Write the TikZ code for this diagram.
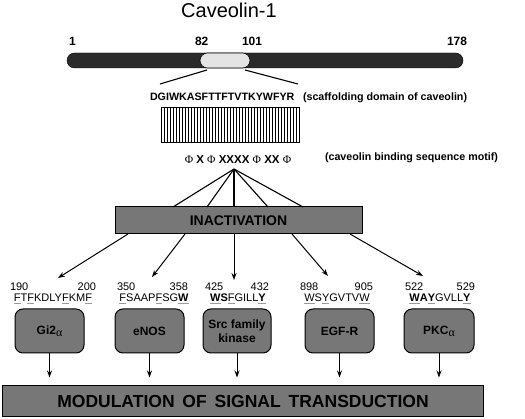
\documentclass[tikz,border=0pt]{standalone}
\usepackage{fontspec}
\setmainfont{Liberation Sans}
\newfontfamily\serifgr{Liberation Serif}
\usetikzlibrary{arrows.meta,calc}
\definecolor{bardark}{HTML}{2B2B2B}
\definecolor{seglight}{HTML}{E4E4E4}
\definecolor{boxgray}{HTML}{777777}
\definecolor{ulgray}{HTML}{9A9A9A}
\newcommand{\ulg}[1]{{\setbox0\hbox{#1}\rlap{\color{ulgray}\rule[-2.4pt]{\wd0}{1.1pt}}\box0}}
\newcommand{\ulb}[1]{\ulg{\textbf{#1}}}
\newcommand{\gph}{{\serifgr\mdseries Φ}}
\newcommand{\galpha}{\raisebox{-0.35ex}{\serifgr\mdseries α}}
\tikzset{
  plain/.style={inner sep=0pt, outer sep=0pt},
  numb/.style={plain, font=\bfseries\fontsize{12}{14}\selectfont, anchor=base west},
  seqbold/.style={plain, font=\bfseries\fontsize{10.7}{12}\selectfont, anchor=base west},
  posnum/.style={plain, font=\fontsize{11}{12}\selectfont},
  seqsmall/.style={plain, font=\fontsize{11}{12}\selectfont, anchor=base},
  gbox/.style={draw=black, line width=1pt, fill=boxgray, inner sep=0pt},
  rbox/.style={gbox, rounded corners=8pt, minimum height=44pt, align=center,
    font=\bfseries\fontsize{12}{14}\selectfont},
  arr/.style={-{Stealth[length=7pt,width=5pt]}, line width=1pt},
  ln/.style={line width=1.1pt}
}
\begin{document}
\begin{tikzpicture}[x=1pt,y=-1pt]
\useasboundingbox (0,0) rectangle (525,419);
% title
\node[plain, font=\fontsize{20}{22}\selectfont, anchor=base] (title) at (229,18) {Caveolin-1};
% bar
\node[plain, draw=black, fill=bardark, rounded corners=7.5pt, minimum width=396pt, minimum height=15pt] (bar) at (265,60.5) {};
\node[plain, draw=black, line width=0.6pt, fill=seglight, rounded corners=7.5pt, minimum width=50pt, minimum height=15pt] (seg) at (225,60.5) {};
\node[numb] (n1) at (69,46) {1};
\node[numb] (n82) at (195,46) {82};
\node[numb] (n101) at (242,46) {101};
\node[numb] (n178) at (447,46) {178};
% zoom lines
\coordinate (zl1) at (207,70);
\coordinate (zl2) at (160,84);
\coordinate (zr1) at (245,70);
\coordinate (zr2) at (298,84);
\draw[ln] (zl1) -- (zl2);
\draw[ln] (zr1) -- (zr2);
% sequence
\node[seqbold] (seq) at (150,101) {DGIWKASFTTFTVTKYWFYR};
\node[seqbold] (seqlab) at (303,101) {(scaffolding domain of caveolin)};
% hatched box
\node[plain, draw=black, line width=1pt, minimum width=138pt, minimum height=35pt] (hatch) at (230.5,125.5) {};
\foreach \x in {164,167,...,298} \draw[line width=0.6pt] (\x,108) -- (\x,143);
% motif
\node[plain, font=\bfseries\fontsize{11.5}{13}\selectfont, anchor=base] (motif) at (238,163.5)
  {\gph\ X \gph\ XXXX \gph\ XX \gph};
\node[seqbold] (motiflab) at (325,161) {(caveolin binding sequence motif)};
% inactivation
\node[gbox, minimum width=247pt, minimum height=27pt, font=\bfseries\fontsize{14}{16}\selectfont] (inact) at (238.5,220.5) {INACTIVATION};
\coordinate (apex) at (234,169);
\coordinate (f1) at (173,207);
\coordinate (f2) at (207,207);
\coordinate (f3) at (234,207);
\coordinate (f4) at (268,207);
\coordinate (f5) at (303,207);
\foreach \f in {f1,f2,f3,f4,f5} \draw[ln] (apex) -- (\f);
% arrows to targets
\coordinate (s1) at (128,234); \coordinate (t1) at (58,278);
\coordinate (s2) at (185,234); \coordinate (t2) at (152,277);
\coordinate (s3) at (234,234); \coordinate (t3) at (234,280);
\coordinate (s4) at (292,234); \coordinate (t4) at (328,276);
\coordinate (s5) at (350,234); \coordinate (t5) at (423,276);
\foreach \i in {1,...,5} \draw[arr] (s\i) -- (t\i);
% position numbers and sequences
\node[posnum, anchor=base west] (p1a) at (10,291) {190};
\node[posnum, anchor=base east] (p1b) at (96,291) {200};
\node[seqsmall] (q1) at (53,302) {\ulg{F}T\ulg{F}KDLY\ulg{F}KM\ulg{F}};
\node[posnum, anchor=base west] (p2a) at (117,291) {350};
\node[posnum, anchor=base east] (p2b) at (188,291) {358};
\node[seqsmall] (q2) at (154,302) {\ulg{F}SAAP\ulg{F}SG\ulb{W}};
\node[posnum, anchor=base west] (p3a) at (205,291) {425};
\node[posnum, anchor=base east] (p3b) at (269,291) {432};
\node[seqsmall] (q3) at (238,302) {\ulb{W}\textbf{S}\ulg{F}GILL\ulb{Y}};
\node[posnum, anchor=base west] (p4a) at (300,291) {898};
\node[posnum, anchor=base east] (p4b) at (373,291) {905};
\node[seqsmall] (q4) at (337,302) {\ulg{W}S\ulg{Y}GVTV\ulg{W}};
\node[posnum, anchor=base west] (p5a) at (405,291) {522};
\node[posnum, anchor=base east] (p5b) at (475,291) {529};
\node[seqsmall] (q5) at (440,302) {\ulb{W}\textbf{A}\ulb{Y}GVLL\ulb{Y}};
% target boxes
\node[rbox, minimum width=69pt] (b1) at (49.5,331) {Gi2\galpha};
\node[rbox, minimum width=69pt] (b2) at (149.5,331) {eNOS};
\node[rbox, minimum width=68pt] (b3) at (237,331) {Src family\\kinase};
\node[rbox, minimum width=69pt] (b4) at (339.5,331) {EGF-R};
\node[rbox, minimum width=70pt] (b5) at (439,331) {PKC\galpha};
% modulation
\node[gbox, minimum width=481pt, minimum height=31pt, font=\bfseries\fontsize{17.5}{20}\selectfont] (mod) at (243,401.5)
  {MODULATION\hspace{0.45em}OF\hspace{0.45em}SIGNAL\hspace{0.45em}TRANSDUCTION};
\foreach \b in {b1,b2,b3,b4,b5} \draw[arr, shorten >=8pt] (\b.south) -- (\b.south |- mod.north);
\end{tikzpicture}
\end{document}
